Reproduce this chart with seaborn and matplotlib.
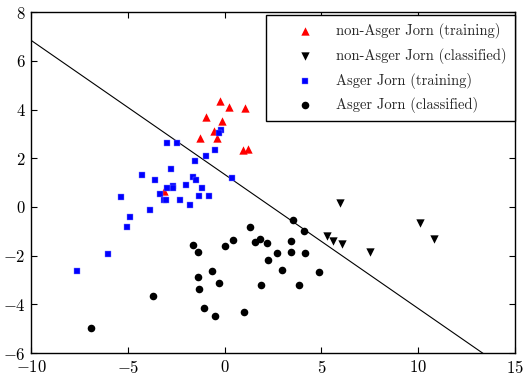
import matplotlib
matplotlib.use("Agg")
import matplotlib.pyplot as plt
import seaborn as sns
import numpy as np
import pandas as pd

# ---- data ----
nonjorn_train_x = [-0.24, 0.24, 1.07, -0.98, -0.16, -0.55, -0.38, -1.26, 0.93, 1.19, -3.14]
nonjorn_train_y = [4.37, 4.12, 4.08, 3.71, 3.52, 3.14, 2.83, 2.83, 2.33, 2.38, 0.66]

nonjorn_class_x = [5.96, 10.10, 10.83, 5.27, 5.58, 6.08, 7.50]
nonjorn_class_y = [0.18, -0.64, -1.32, -1.21, -1.38, -1.54, -1.83]

jorn_train_x = [-0.21, -0.28, -2.95, -2.44, -0.52, -0.95, -1.55, -2.76, 0.36, -3.59,
                -1.61, -1.50, -1.97, -1.16, -2.64, -2.68, -3.00, -3.32, -3.14, -3.05,
                -2.28, -1.31, -0.78, -1.81, -4.28, -5.35, -3.87, -4.91, -5.04, -6.03, -7.62]
jorn_train_y = [3.17, 3.03, 2.62, 2.62, 2.35, 2.10, 1.91, 1.55, 1.21, 1.12,
                1.25, 1.12, 0.91, 0.80, 0.88, 0.78, 0.76, 0.55, 0.28, 0.28,
                0.27, 0.45, 0.47, 0.10, 1.33, 0.41, -0.12, -0.43, -0.81, -1.95, -2.65]

jorn_class_x = [3.51, 1.31, 4.11, 0.45, 0.04, -1.62, -1.36, 1.57, 1.81, 2.18,
                3.42, 2.69, 3.44, 4.13, 2.23, 2.95, 4.89, -0.67, -1.35, -1.30,
                -0.28, 1.88, 3.83, -1.04, -0.50, 1.02, -6.91, -3.68]
jorn_class_y = [-0.53, -0.84, -0.98, -1.36, -1.61, -1.55, -1.87, -1.42, -1.31, -1.47,
                -1.38, -1.91, -1.87, -1.89, -2.16, -2.58, -2.69, -2.62, -2.89, -3.35,
                -3.12, -3.19, -3.22, -4.14, -4.50, -4.33, -4.97, -3.65]

boundary_intercept = 1.34
boundary_slope = -0.551

labels = ["non-Asger Jorn (training)", "non-Asger Jorn (classified)",
          "Asger Jorn (training)", "Asger Jorn (classified)"]
x_ticks = [-10, -5, 0, 5, 10, 15]
y_ticks = [-6, -4, -2, 0, 2, 4, 6, 8]

# ---- style ----
sns.set_style("ticks")
plt.rcParams["font.family"] = ["cmr10", "DejaVu Serif"]
plt.rcParams["mathtext.fontset"] = "cm"
plt.rcParams["axes.formatter.use_mathtext"] = True
plt.rcParams["axes.unicode_minus"] = True

fig = plt.figure(figsize=(5.29, 3.80), dpi=100)
ax = fig.add_axes([31 / 529, 1 - 353 / 380, (515 - 31) / 529, (353 - 12.3) / 380])

bx = np.array([-10.0, 15.0])
ax.plot(bx, boundary_intercept + boundary_slope * bx, color="black", lw=0.8, zorder=1)

sns.scatterplot(x=nonjorn_train_x, y=nonjorn_train_y, marker="^", color="#ff0000",
                s=36, linewidth=0, label=labels[0], ax=ax, zorder=2)
sns.scatterplot(x=nonjorn_class_x, y=nonjorn_class_y, marker="v", color="black",
                s=36, linewidth=0, label=labels[1], ax=ax, zorder=2)
sns.scatterplot(x=jorn_train_x, y=jorn_train_y, marker="s", color="#0000ff",
                s=20, linewidth=0.3, edgecolor="#8080ff", label=labels[2], ax=ax, zorder=3)
sns.scatterplot(x=jorn_class_x, y=jorn_class_y, marker="o", color="black",
                s=30, linewidth=0, label=labels[3], ax=ax, zorder=2)

ax.set_xlim(-10, 15)
ax.set_ylim(-6, 8)
ax.set_xticks(x_ticks)
ax.set_yticks(y_ticks)
ax.tick_params(direction="in", length=4, width=0.8, top=True, right=True,
               labelsize=12, pad=4, colors="black")
for sp in ax.spines.values():
    sp.set_visible(True)
    sp.set_linewidth(1.0)
    sp.set_color("black")

leg = ax.legend(loc="upper right", bbox_to_anchor=(1.0, 0.992), borderaxespad=0,
                frameon=True, fancybox=False, framealpha=1, edgecolor="black",
                fontsize=10.5, scatterpoints=1, handletextpad=0.05, labelspacing=0.6,
                borderpad=0.55, handlelength=4.25)
leg.get_frame().set_linewidth(1.0)

fig.savefig("out.png", dpi=100)
